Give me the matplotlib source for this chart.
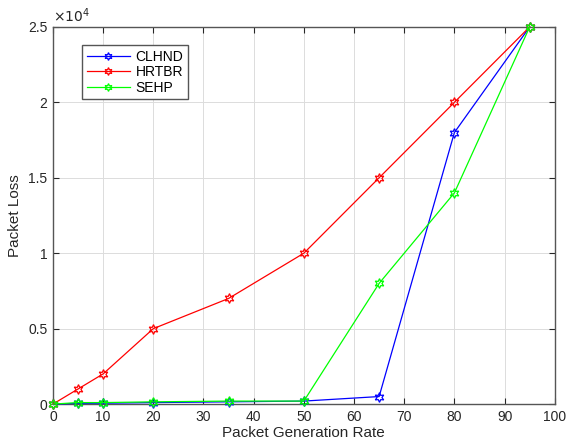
import matplotlib
matplotlib.use("Agg")
import matplotlib.pyplot as plt
from matplotlib.ticker import FuncFormatter

x = [0, 5, 10, 20, 35, 50, 65, 80, 95]
clhnd = [0, 50, 60, 100, 150, 200, 500, 18000, 25000]
hrtbr = [0, 1000, 2000, 5000, 7000, 10000, 15000, 20000, 25000]
sehp = [0, 100, 100, 150, 200, 200, 8000, 14000, 25000]
labels = ["CLHND", "HRTBR", "SEHP"]
xticks = [0, 10, 20, 30, 40, 50, 60, 70, 80, 90, 100]
yticks = [0, 5000, 10000, 15000, 20000, 25000]

plt.rcParams['font.family'] = ['Liberation Sans', 'DejaVu Sans']
fig = plt.figure(figsize=(5.69, 4.48), dpi=100)
ax = fig.add_axes([0.093, 0.098, 0.882, 0.842])

star = (6, 1, 0)
for ys, c, lab in zip([clhnd, hrtbr, sehp], ['#0000ff', '#ff0000', '#00ff00'], labels):
    ax.plot(x, ys, color=c, lw=0.9, marker=star, ms=7, mfc='none', mec=c, mew=0.9,
            label=lab, clip_on=False, zorder=3)

ax.set_xlim(0, 100)
ax.set_ylim(0, 25000)
ax.set_xticks(xticks)
ax.set_yticks(yticks)
ax.yaxis.set_major_formatter(FuncFormatter(lambda v, p: f"{v/1e4:g}"))
ax.text(0.0, 1.005, r"$\times10^{4}$", transform=ax.transAxes, fontsize=10, color='#262626', va='bottom', ha='left')
ax.grid(True, color='#dcdcdc', lw=0.7)
ax.set_axisbelow(True)
ax.tick_params(direction='in', labelsize=10, colors='#262626', length=4, top=True, right=True, pad=4)
for s in ax.spines.values():
    s.set_color('#555555')
    s.set_linewidth(1.0)
ax.set_xlabel("Packet Generation Rate", fontsize=11, color='#262626', labelpad=2)
ax.set_ylabel("Packet Loss", fontsize=11, color='#262626', labelpad=4)
leg = ax.legend(loc='upper left', bbox_to_anchor=(0.058, 0.952), borderaxespad=0, fontsize=10,
                fancybox=False, edgecolor='#555555', handlelength=3.1, handletextpad=0.4,
                borderpad=0.35, labelspacing=0.1, framealpha=1, markerscale=0.8)
leg.get_frame().set_linewidth(1.0)
fig.savefig("out.png", dpi=100)
